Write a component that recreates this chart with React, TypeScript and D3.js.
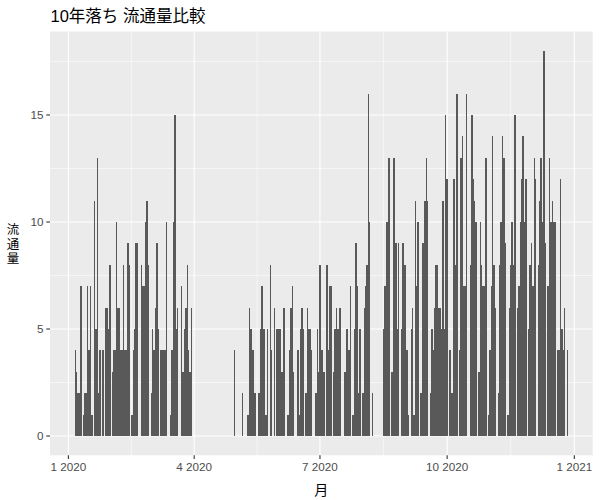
import React from "react";
import * as d3 from "d3";

// daily counts, one value per day from the start date
const winterStart = "2020-01-06";
const winterCounts = [
  4, 3, 2, 2, 7, 0, 1, 2, 2, 7,
  4, 7, 1, 0, 11, 5, 13, 2, 4, 0,
  4, 0, 6, 6, 5, 8, 0, 3, 4, 4,
  10, 6, 6, 4, 4, 8, 4, 4, 9, 8,
  0, 1, 4, 5, 9, 9, 0, 0, 8, 7,
  7, 10, 11, 8, 0, 2, 5, 4, 6, 9,
  5, 0, 4, 4, 4, 4, 10, 0, 0, 1,
  4, 10, 15, 5, 6, 0, 0, 7, 3, 5,
  6, 8, 4, 3, 6,
];

const summerStart = "2020-04-30";
const summerCounts = [
  4, 0, 0, 0, 0, 0, 2, 0, 0, 0,
  1, 6, 5, 4, 4, 2, 0, 0, 2, 5,
  7, 5, 5, 1, 5, 0, 8, 4, 0, 6,
  0, 5, 5, 5, 3, 3, 6, 0, 0, 1,
  4, 6, 7, 3, 0, 0, 4, 1, 5, 6,
  5, 0, 2, 6, 5, 5, 4, 0, 0, 2,
  5, 3, 8, 4, 4, 3, 0, 8, 4, 7,
  7, 0, 3, 5, 6, 5, 6, 6, 0, 0,
  3, 5, 5, 4, 7, 0, 1, 5, 9, 7,
  2, 5, 0, 2, 6, 7, 8, 16, 10, 0,
  2,
];

const autumnStart = "2020-08-16";
const autumnCounts = [
  5, 7, 10, 10, 13, 0, 3, 13, 13, 9,
  5, 9, 0, 5, 9, 8, 8, 4, 1, 0,
  5, 6, 1, 11, 7, 10, 0, 2, 9, 9,
  11, 13, 11, 0, 2, 5, 4, 6, 8, 8,
  6, 6, 5, 11, 5, 15, 12, 0, 4, 2,
  2, 12, 8, 16, 0, 4, 13, 14, 7, 7,
  16, 0, 0, 8, 15, 12, 11, 10, 0, 3,
  10, 8, 7, 7, 13, 0, 1, 4, 7, 14,
  8, 6, 0, 2, 8, 10, 14, 13, 9, 0,
  1, 6, 8, 10, 8, 15, 0, 6, 7, 10,
  12, 14, 10, 12, 0, 5, 8, 9, 7, 13,
  12, 0, 8, 11, 13, 10, 18, 9, 0, 7,
  13, 10, 11, 10, 10, 0, 4, 4, 12, 5,
  4, 6, 0, 4,
];

const yTicks = [0, 5, 10, 15];
const xTickDates = ["2020-01-01", "2020-04-01", "2020-07-01", "2020-10-01", "2021-01-01"];
const xMinorDates = ["2020-02-15T12:00", "2020-05-16T12:00", "2020-08-16", "2020-11-16"];
const yLabelChars = ["流", "通", "量"];

const parse = (s: string) => new Date(s.length > 10 ? s : s + "T00:00");

type Row = { date: Date; n: number };

const toRows = (start: string, counts: number[]): Row[] =>
  counts.map((n, i) => ({ date: d3.timeDay.offset(parse(start), i), n }));

const rows: Row[] = [
  ...toRows(winterStart, winterCounts),
  ...toRows(summerStart, summerCounts),
  ...toRows(autumnStart, autumnCounts),
];

const W = 600;
const H = 500;
const panel = { left: 50, right: 592.7, top: 31.5, bottom: 455.3 };
const DAY = 864e5;

const App: React.FC = () => {
  // continuous range incl. bar half-widths, then ggplot's 5% expansion
  const t0 = +d3.min(rows, (d) => d.date)! - 0.45 * DAY;
  const t1 = +d3.max(rows, (d) => d.date)! + 0.45 * DAY;
  const padX = (t1 - t0) * 0.05;
  const x = d3
    .scaleTime()
    .domain([new Date(t0 - padX), new Date(t1 + padX)])
    .range([panel.left, panel.right]);

  const yMax = d3.max(rows, (d) => d.n)!;
  const y = d3
    .scaleLinear()
    .domain([-yMax * 0.05, yMax * 1.05])
    .range([panel.bottom, panel.top]);

  const yMinor = yTicks.slice(0, -1).map((v) => v + 2.5).concat([17.5]);
  const fmt = d3.timeFormat("%-m %Y");

  // snap each day's bar to whole pixels so neighbouring days form solid blocks
  const barEdges = (d: Date) => {
    const a = Math.round(x(new Date(+d - 0.5 * DAY)));
    const b = Math.round(x(new Date(+d + 0.5 * DAY)));
    return { x0: a, w: Math.max(1, b - a) };
  };

  const latin = "'Liberation Sans', Arial, 'Noto Sans CJK JP', sans-serif";
  const cjk = "'Liberation Sans', 'Noto Sans CJK JP', sans-serif";

  return (
    <svg width={W} height={H} style={{ position: "absolute", left: 0, top: 0 }}>
      <rect width={W} height={H} fill="#fff" />
      <rect
        x={panel.left}
        y={panel.top}
        width={panel.right - panel.left}
        height={panel.bottom - panel.top}
        fill="#EBEBEB"
      />
      {/* minor grid */}
      {yMinor.map((v) => (
        <line key={"ym" + v} x1={panel.left} x2={panel.right} y1={y(v)} y2={y(v)} stroke="#fff" strokeWidth={0.55} />
      ))}
      {xMinorDates.map((s) => (
        <line key={"xm" + s} x1={x(parse(s))} x2={x(parse(s))} y1={panel.top} y2={panel.bottom} stroke="#fff" strokeWidth={0.55} />
      ))}
      {/* major grid */}
      {yTicks.map((v) => (
        <line key={"y" + v} x1={panel.left} x2={panel.right} y1={y(v)} y2={y(v)} stroke="#fff" strokeWidth={1.1} />
      ))}
      {xTickDates.map((s) => (
        <line key={"x" + s} x1={x(parse(s))} x2={x(parse(s))} y1={panel.top} y2={panel.bottom} stroke="#fff" strokeWidth={1.1} />
      ))}

      {/* bars */}
      <g shapeRendering="crispEdges">
        {rows
          .filter((d) => d.n > 0)
          .map((d) => {
            const { x0, w } = barEdges(d.date);
            return (
              <rect key={+d.date} x={x0} y={y(d.n)} width={w} height={y(0) - y(d.n)} fill="#595959" />
            );
          })}
      </g>

      {/* y axis */}
      {yTicks.map((v) => (
        <g key={"yt" + v}>
          <line x1={panel.left - 3.7} x2={panel.left} y1={y(v)} y2={y(v)} stroke="#333" strokeWidth={1.1} />
          <text
            x={panel.left - 6.6}
            y={y(v)}
            dy="0.35em"
            textAnchor="end"
            fontSize={11.7}
            fill="#4D4D4D"
            fontFamily={latin}
          >
            {v}
          </text>
        </g>
      ))}

      {/* x axis */}
      {xTickDates.map((s) => (
        <g key={"xt" + s}>
          <line x1={x(parse(s))} x2={x(parse(s))} y1={panel.bottom} y2={panel.bottom + 3.7} stroke="#333" strokeWidth={1.1} />
          <text
            x={x(parse(s))}
            y={panel.bottom + 6.6}
            dy="0.75em"
            textAnchor="middle"
            fontSize={11.7}
            fill="#4D4D4D"
            fontFamily={latin}
          >
            {fmt(parse(s))}
          </text>
        </g>
      ))}

      {/* titles */}
      <text x={(panel.left + panel.right) / 2} y={495} textAnchor="middle" fontSize={14} fill="#000" fontFamily={cjk}>
        月
      </text>
      <text x={13} y={234} textAnchor="middle" fontSize={12.5} fill="#000" fontFamily={cjk}>
        {yLabelChars.map((c, i) => (
          <tspan key={c} x={13} dy={i === 0 ? 0 : 14.5}>
            {c}
          </tspan>
        ))}
      </text>
      <text x={50.5} y={22} fontSize={16.5} fill="#000" fontFamily={cjk}>
        10年落ち 流通量比較
      </text>
    </svg>
  );
};

export default App;
